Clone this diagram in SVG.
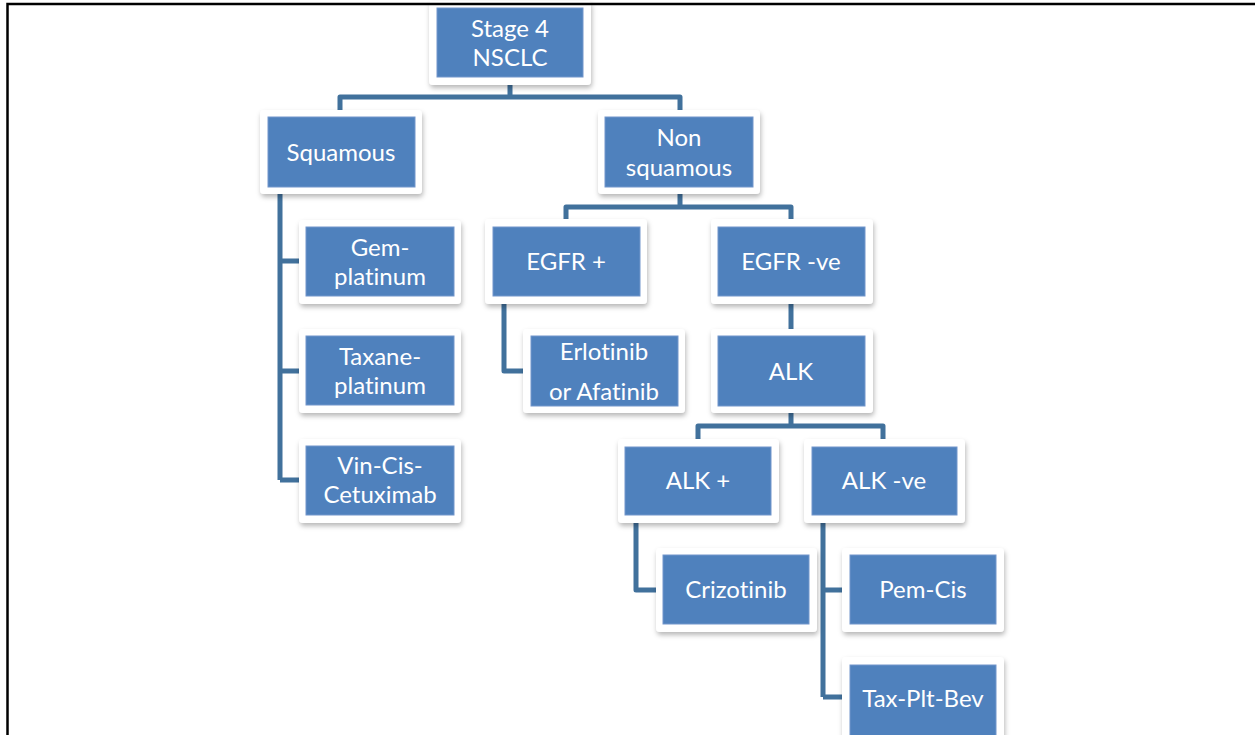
<svg xmlns="http://www.w3.org/2000/svg" width="1255" height="735" viewBox="0 0 1255 735">
<defs>
<filter id="sh" x="-10%" y="-10%" width="125%" height="135%">
<feDropShadow dx="1" dy="3" stdDeviation="2.5" flood-color="#000" flood-opacity="0.28"/>
</filter>
</defs>
<style>
.card{fill:#ffffff;filter:url(#sh)}
.box{fill:#4F81BD;stroke:#7396cb;stroke-width:1}
.t{font-family:Lato,"Open Sans","Liberation Sans",sans-serif;font-size:24px;fill:#ffffff;text-anchor:middle;font-variant-ligatures:none}
.c{fill:none;stroke:#41719C;stroke-width:5;stroke-linejoin:round;stroke-linecap:butt}
</style>
<rect x="0" y="0" width="1255" height="735" fill="#ffffff"/>
<g id="connectors">
<path class="c" d="M510,85 V97 M340,110 V97 H680 V110"/>
<path class="c" d="M280,194 V480 M280,261 H300 M280,371 H300 M280,480 H300"/>
<path class="c" d="M680,194 V207 M566,219 V207 H791 V219"/>
<path class="c" d="M504,304 V371 H524"/>
<path class="c" d="M791,304 V329"/>
<path class="c" d="M791,413 V426 M698,439 V426 H883 V439"/>
<path class="c" d="M636,523 V590 H656"/>
<path class="c" d="M823,523 V697 M823,590 H843 M823,697 H843"/>
</g>
<g id="n-stage4">
<rect class="card" x="429" y="1" width="162" height="84" rx="4"/>
<rect class="box" x="437" y="8" width="146" height="69"/>
<text class="t" x="510" y="37">Stage 4</text>
<text class="t" x="510" y="66">NSCLC</text>
</g>
<g id="n-squamous">
<rect class="card" x="260" y="110" width="162" height="84" rx="4"/>
<rect class="box" x="268" y="117" width="147" height="70"/>
<text class="t" x="341" y="161">Squamous</text>
</g>
<g id="n-nonsquamous">
<rect class="card" x="598" y="110" width="162" height="84" rx="4"/>
<rect class="box" x="605" y="117" width="148" height="70"/>
<text class="t" x="679" y="146">Non</text>
<text class="t" x="679" y="176">squamous</text>
</g>
<g id="n-gem">
<rect class="card" x="299" y="220" width="162" height="84" rx="4"/>
<rect class="box" x="306" y="227" width="148" height="69"/>
<text class="t" x="380" y="256">Gem-</text>
<text class="t" x="380" y="285">platinum</text>
</g>
<g id="n-taxane">
<rect class="card" x="299" y="329" width="162" height="84" rx="4"/>
<rect class="box" x="306" y="336" width="148" height="69"/>
<text class="t" x="380" y="365">Taxane-</text>
<text class="t" x="380" y="394">platinum</text>
</g>
<g id="n-vin">
<rect class="card" x="299" y="439" width="162" height="84" rx="4"/>
<rect class="box" x="306" y="446" width="148" height="69"/>
<text class="t" x="380" y="474">Vin-Cis-</text>
<text class="t" x="380" y="503">Cetuximab</text>
</g>
<g id="n-egfrpos">
<rect class="card" x="485" y="219" width="162" height="85" rx="4"/>
<rect class="box" x="493" y="227" width="147" height="69"/>
<text class="t" x="566" y="270">EGFR +</text>
</g>
<g id="n-egfrneg">
<rect class="card" x="711" y="219" width="162" height="85" rx="4"/>
<rect class="box" x="718" y="227" width="147" height="69"/>
<text class="t" x="791" y="270">EGFR -ve</text>
</g>
<g id="n-erlotinib">
<rect class="card" x="523" y="329" width="162" height="84" rx="4"/>
<rect class="box" x="531" y="336" width="147" height="70"/>
<text class="t" x="604" y="360">Erlotinib</text>
<text class="t" x="604" y="400">or Afatinib</text>
</g>
<g id="n-alk">
<rect class="card" x="711" y="329" width="162" height="84" rx="4"/>
<rect class="box" x="718" y="336" width="147" height="70"/>
<text class="t" x="791" y="380">ALK</text>
</g>
<g id="n-alkpos">
<rect class="card" x="618" y="439" width="161" height="84" rx="4"/>
<rect class="box" x="625" y="447" width="146" height="68"/>
<text class="t" x="698" y="489">ALK +</text>
</g>
<g id="n-alkneg">
<rect class="card" x="804" y="439" width="161" height="84" rx="4"/>
<rect class="box" x="812" y="447" width="145" height="68"/>
<text class="t" x="884" y="489">ALK -ve</text>
</g>
<g id="n-crizotinib">
<rect class="card" x="656" y="548" width="161" height="84" rx="4"/>
<rect class="box" x="663" y="555" width="146" height="69"/>
<text class="t" x="736" y="598">Crizotinib</text>
</g>
<g id="n-pemcis">
<rect class="card" x="842" y="548" width="162" height="84" rx="4"/>
<rect class="box" x="850" y="555" width="146" height="69"/>
<text class="t" x="923" y="598">Pem-Cis</text>
</g>
<g id="n-taxpltbev">
<rect class="card" x="842" y="657" width="162" height="90" rx="4"/>
<rect class="box" x="850" y="665" width="146" height="80"/>
<text class="t" x="923" y="707">Tax-Plt-Bev</text>
</g>
<g id="border">
<path d="M7.5,735 V4 H1255" fill="none" stroke="#000" stroke-width="2.5"/>
</g>
</svg>
